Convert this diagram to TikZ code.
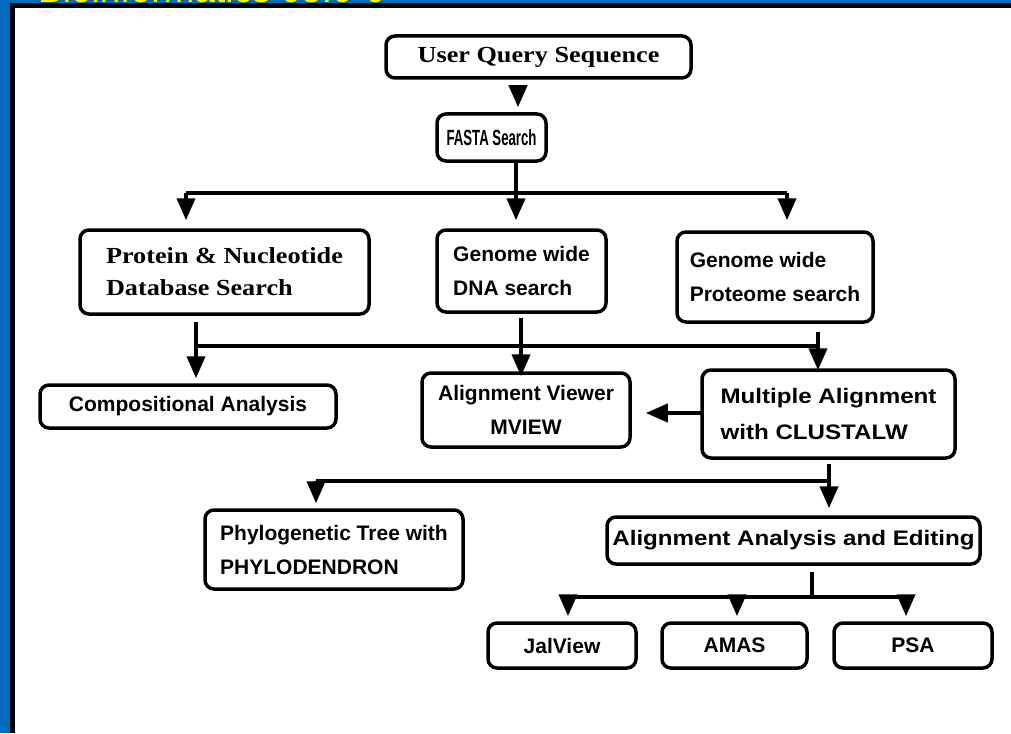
\documentclass[tikz,border=0pt]{standalone}
\usepackage{fontspec}
\setmainfont{Liberation Serif}
\newfontfamily\serifw[FakeStretch=1.14]{Liberation Serif}
\newfontfamily\sansb{Liberation Sans}
\newfontfamily\sansw[FakeStretch=1.15]{Liberation Sans}
\newfontfamily\sansc[FakeStretch=0.6]{Liberation Sans}
\usetikzlibrary{arrows.meta}
\definecolor{bgblue}{RGB}{0,108,186}
\definecolor{ttlyellow}{RGB}{255,240,0}
\tikzset{
  box/.style={draw=black, line width=3.5pt, rounded corners=9pt, fill=white, inner sep=0pt, font=\sansb\bfseries\fontsize{21}{34}\selectfont},
  wbox/.style={box, font=\sansw\bfseries\fontsize{21}{36}\selectfont},
  sbox/.style={box, font=\serifw\bfseries\fontsize{23}{32}\selectfont},
  ln/.style={line width=4pt, draw=black},
  arr/.style={ln, -{Triangle[width=18pt,length=22pt]}},
}
\begin{document}
\begin{tikzpicture}[x=1pt,y=-1pt]
\useasboundingbox (0,0) rectangle (1011,733);
\fill[bgblue] (0,0) rectangle (1011,733);
\begin{scope}
\clip (0,0) rectangle (1011,3);
\node[anchor=base west, text=ttlyellow, font=\sansb\fontsize{37}{37}\selectfont, inner sep=0pt] (ttl) at (38,2.5) {Bioinformatics 05:0-0};
\end{scope}
\fill[black] (10,3) rectangle (1011,733);
\fill[white] (15,8) rectangle (1011,733);

% nodes
\node[sbox, minimum width=305pt, minimum height=42pt] (uq) at (538.5,57) {User Query Sequence};
\node[box, font=\sansc\bfseries\fontsize{22}{26}\selectfont, minimum width=109pt, minimum height=47pt] (fasta) at (491.5,137.5) {FASTA Search};
\node[sbox, minimum width=289pt, minimum height=84pt, align=left] (prot) at (224.5,272) {Protein \& Nucleotide\\Database Search};
\node[box, minimum width=169pt, minimum height=82pt, align=left] (dna) at (521.5,271) {Genome wide\\DNA search};
\node[box, minimum width=196pt, minimum height=90pt, align=left] (prote) at (775,277) {Genome wide\\Proteome search};
\node[box, minimum width=296pt, minimum height=43pt] (comp) at (188,406.5) {Compositional Analysis};
\node[box, minimum width=208pt, minimum height=74pt, align=center] (mview) at (526,410) {Alignment Viewer\\MVIEW};
\node[wbox, minimum width=253pt, minimum height=88pt, align=left] (clus) at (828.5,414) {Multiple Alignment\\with CLUSTALW};
\node[box, minimum width=258pt, minimum height=79pt, align=left] (phylo) at (334,549.5) {Phylogenetic Tree with\\PHYLODENDRON};
\node[wbox, minimum width=373pt, minimum height=47pt] (aae) at (793.5,540.5) {Alignment Analysis and Editing};
\node[box, minimum width=148pt, minimum height=45pt] (jal) at (562,645.5) {JalView};
\node[box, minimum width=145pt, minimum height=45pt] (amas) at (734.5,645.5) {AMAS};
\node[box, minimum width=158pt, minimum height=45pt] (psa) at (913,645.5) {PSA};

% connectors
\coordinate (a1) at (518,88);
\draw[arr, shorten >=5pt] (a1) -- (a1 |- fasta.north);

\coordinate (h1) at (516,193);
\coordinate (h1l) at (186,193);
\coordinate (h1r) at (787,193);
\draw[ln] (h1 |- fasta.south) -- (h1);
\draw[ln] (h1l) -- (h1r);
\draw[arr, shorten >=8pt] (h1l) -- (h1l |- prot.north);
\draw[arr, shorten >=8pt] (h1) -- (h1 |- dna.north);
\draw[arr, shorten >=10pt] (h1r) -- (h1r |- prote.north);

\coordinate (h2l) at (196,346);
\coordinate (h2m) at (521,346);
\coordinate (h2r) at (818,346);
\draw[ln] (h2l) -- (h2r);
\draw[arr, shorten <=6pt, shorten >=5pt] (h2l |- prot.south) -- (h2l |- comp.north);
\draw[arr, shorten <=4pt, shorten >=-5pt] (h2m |- dna.south) -- (h2m |- mview.north);
\draw[ln, shorten <=8pt] (h2r |- prote.south) -- (h2r);
\draw[arr, shorten >=-2pt] (h2r) -- (h2r |- clus.north);

\draw[arr, shorten <=-1pt, shorten >=14pt] (clus.west |- 0,413) -- (mview.east |- 0,413);

\coordinate (h3l) at (316,481);
\coordinate (h3r) at (829,481);
\draw[ln, shorten <=4pt] (h3r |- clus.south) -- (h3r);
\draw[ln] (h3l) -- (h3r);
\draw[arr, shorten >=5pt] (h3l) -- (h3l |- phylo.north);
\draw[arr, shorten >=7pt] (h3r) -- (h3r |- aae.north);

\coordinate (h4) at (812,597);
\coordinate (h4l) at (568,597);
\coordinate (h4r) at (906,597);
\coordinate (h4a) at (737,597);
\draw[ln, shorten <=6pt] (h4 |- aae.south) -- (h4);
\draw[ln] (h4l) -- (h4r);
\draw[arr, shorten >=5pt] (h4l) -- (h4l |- jal.north);
\draw[arr, shorten >=5pt] (h4a) -- (h4a |- amas.north);
\draw[arr, shorten >=5pt] (h4r) -- (h4r |- psa.north);
\end{tikzpicture}
\end{document}
